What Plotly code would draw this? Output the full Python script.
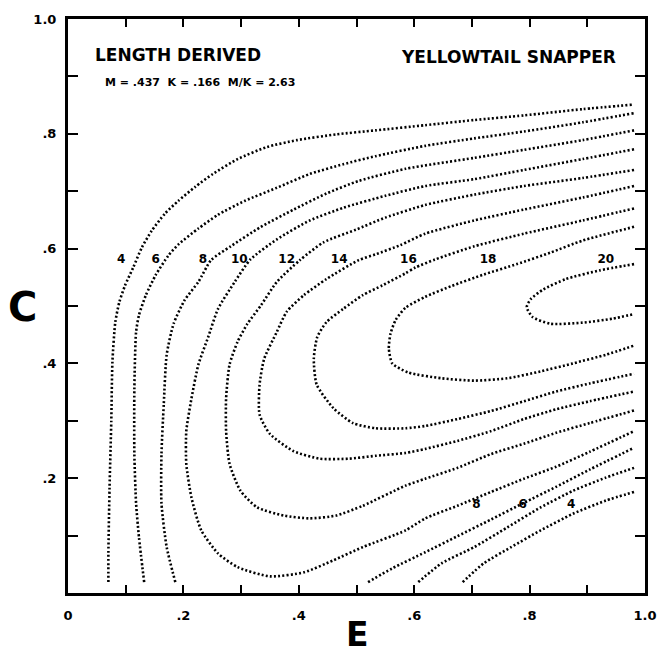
import plotly.graph_objects as go

# ---- contour isopleths (E = exploitation rate, C = size at entry) ----
E_4 = [0.070, 0.070, 0.072, 0.075, 0.077, 0.082, 0.089, 0.099, 0.113, 0.128, 0.145, 0.168, 0.191, 0.221, 0.251, 0.294, 0.345, 0.397, 0.465, 0.533, 0.619, 0.704, 0.790, 0.892, 0.981]
C_4 = [0.019, 0.069, 0.183, 0.299, 0.403, 0.472, 0.507, 0.536, 0.567, 0.602, 0.631, 0.661, 0.683, 0.708, 0.730, 0.756, 0.777, 0.789, 0.799, 0.806, 0.815, 0.824, 0.832, 0.843, 0.851]

E_6 = [0.132, 0.123, 0.118, 0.115, 0.115, 0.118, 0.123, 0.135, 0.152, 0.174, 0.191, 0.226, 0.260, 0.306, 0.362, 0.419, 0.477, 0.533, 0.619, 0.704, 0.790, 0.892, 0.981]
C_6 = [0.019, 0.097, 0.156, 0.242, 0.356, 0.455, 0.484, 0.519, 0.554, 0.588, 0.607, 0.635, 0.659, 0.683, 0.706, 0.730, 0.747, 0.761, 0.779, 0.792, 0.804, 0.820, 0.836]

E_8 = [0.186, 0.171, 0.162, 0.162, 0.166, 0.171, 0.183, 0.202, 0.226, 0.248, 0.282, 0.333, 0.391, 0.448, 0.504, 0.585, 0.704, 0.790, 0.892, 0.981]
C_8 = [0.019, 0.080, 0.156, 0.242, 0.329, 0.415, 0.469, 0.510, 0.542, 0.580, 0.604, 0.637, 0.668, 0.696, 0.718, 0.739, 0.758, 0.772, 0.789, 0.806]

E_10 = [0.981, 0.892, 0.790, 0.704, 0.619, 0.550, 0.477, 0.419, 0.362, 0.316, 0.289, 0.260, 0.243, 0.226, 0.214, 0.205, 0.205, 0.214, 0.231, 0.260, 0.294, 0.350, 0.409, 0.460, 0.511, 0.585, 0.619, 0.675, 0.733, 0.790, 0.846, 0.904, 0.981]
C_10 = [0.773, 0.756, 0.737, 0.721, 0.709, 0.692, 0.671, 0.649, 0.616, 0.581, 0.542, 0.495, 0.446, 0.398, 0.339, 0.282, 0.225, 0.166, 0.109, 0.069, 0.045, 0.029, 0.036, 0.057, 0.080, 0.109, 0.130, 0.152, 0.176, 0.199, 0.220, 0.246, 0.282]

E_12 = [0.981, 0.892, 0.790, 0.704, 0.619, 0.550, 0.499, 0.443, 0.402, 0.362, 0.335, 0.311, 0.294, 0.280, 0.274, 0.274, 0.280, 0.299, 0.328, 0.374, 0.419, 0.465, 0.511, 0.585, 0.619, 0.675, 0.733, 0.790, 0.846, 0.904, 0.981]
C_12 = [0.737, 0.723, 0.709, 0.694, 0.676, 0.654, 0.633, 0.611, 0.580, 0.542, 0.502, 0.469, 0.438, 0.398, 0.339, 0.282, 0.225, 0.178, 0.149, 0.135, 0.130, 0.135, 0.152, 0.187, 0.199, 0.218, 0.242, 0.260, 0.279, 0.296, 0.318]

E_14 = [0.981, 0.892, 0.790, 0.704, 0.619, 0.576, 0.533, 0.504, 0.448, 0.409, 0.379, 0.362, 0.340, 0.332, 0.332, 0.350, 0.391, 0.436, 0.487, 0.533, 0.585, 0.619, 0.675, 0.733, 0.790, 0.846, 0.904, 0.981]
C_14 = [0.709, 0.689, 0.668, 0.649, 0.626, 0.606, 0.590, 0.580, 0.547, 0.519, 0.490, 0.455, 0.408, 0.363, 0.311, 0.277, 0.247, 0.234, 0.234, 0.239, 0.244, 0.251, 0.265, 0.282, 0.303, 0.320, 0.334, 0.351]

E_16 = [0.981, 0.892, 0.790, 0.704, 0.636, 0.602, 0.585, 0.545, 0.511, 0.477, 0.448, 0.432, 0.426, 0.431, 0.460, 0.494, 0.533, 0.585, 0.619, 0.675, 0.733, 0.790, 0.846, 0.904, 0.981]
C_16 = [0.670, 0.649, 0.626, 0.604, 0.581, 0.567, 0.557, 0.536, 0.519, 0.495, 0.472, 0.446, 0.408, 0.363, 0.322, 0.296, 0.287, 0.287, 0.291, 0.303, 0.317, 0.334, 0.351, 0.365, 0.382]

E_18 = [0.981, 0.892, 0.836, 0.778, 0.721, 0.665, 0.619, 0.585, 0.568, 0.559, 0.556, 0.562, 0.590, 0.648, 0.704, 0.761, 0.819, 0.875, 0.932, 0.981]
C_18 = [0.638, 0.614, 0.593, 0.573, 0.555, 0.535, 0.516, 0.497, 0.476, 0.452, 0.426, 0.400, 0.384, 0.374, 0.370, 0.374, 0.386, 0.400, 0.415, 0.431]

E_20 = [0.981, 0.921, 0.863, 0.824, 0.802, 0.795, 0.805, 0.836, 0.892, 0.944, 0.981]
C_20 = [0.573, 0.562, 0.547, 0.529, 0.512, 0.498, 0.481, 0.469, 0.471, 0.478, 0.486]

E_8_low = [0.520, 0.562, 0.619, 0.675, 0.733, 0.790, 0.846, 0.904, 0.981]
C_8_low = [0.019, 0.043, 0.071, 0.099, 0.128, 0.157, 0.185, 0.215, 0.253]

E_6_low = [0.607, 0.648, 0.704, 0.761, 0.819, 0.875, 0.932, 0.981]
C_6_low = [0.019, 0.052, 0.080, 0.114, 0.149, 0.178, 0.201, 0.218]

E_4_low = [0.684, 0.721, 0.768, 0.819, 0.875, 0.932, 0.981]
C_4_low = [0.019, 0.052, 0.080, 0.109, 0.138, 0.161, 0.176]

# ---- contour labels ----
label_text = ["4", "6", "8", "10", "12", "14", "16", "18", "20", "8", "6", "4"]
label_e = [0.092, 0.152, 0.234, 0.297, 0.379, 0.470, 0.590, 0.728, 0.932, 0.708, 0.788, 0.872]
label_c = [0.580, 0.580, 0.580, 0.580, 0.580, 0.580, 0.580, 0.580, 0.580, 0.154, 0.154, 0.154]

# ---- axis ticks ----
tick_vals = [0.0, 0.1, 0.2, 0.3, 0.4, 0.5, 0.6, 0.7, 0.8, 0.9, 1.0]
x_tick_text = ["0", "", ".2", "", ".4", "", ".6", "", ".8", "", "1.0"]
y_tick_text = ["", "", ".2", "", ".4", "", ".6", "", ".8", "", "1.0"]

FONT = "DejaVu Sans"

curves = [(E_4, C_4), (E_6, C_6), (E_8, C_8), (E_10, C_10), (E_12, C_12),
          (E_14, C_14), (E_16, C_16), (E_18, C_18), (E_20, C_20),
          (E_8_low, C_8_low), (E_6_low, C_6_low), (E_4_low, C_4_low)]

fig = go.Figure()
for e, c in curves:
    fig.add_trace(go.Scatter(
        x=e, y=c, mode="lines",
        line=dict(color="black", width=2.6, dash="2px,2.2px", shape="spline", smoothing=0.6),
        hoverinfo="skip", showlegend=False))

fig.add_trace(go.Scatter(
    x=label_e, y=label_c, mode="text", text=label_text,
    textfont=dict(family=FONT, size=12, color="black", weight="bold"),
    textposition="middle center", hoverinfo="skip", showlegend=False))

axis_common = dict(
    range=[0, 1], tickvals=tick_vals, showline=True, linecolor="black", linewidth=3,
    mirror="ticks", ticks="inside", tickwidth=2, tickcolor="black",
    showgrid=False, zeroline=False, fixedrange=True,
    tickfont=dict(family=FONT, size=13, color="black", weight="bold"),
)

fig.update_xaxes(**axis_common, ticktext=x_tick_text, ticklen=8, ticklabelstandoff=8)
fig.update_yaxes(**axis_common, ticktext=y_tick_text, ticklen=10, ticklabelstandoff=6)

ann_font = dict(family=FONT, color="black", weight="bold")
fig.add_annotation(x=0.043, y=0.938, xref="x", yref="y", text="LENGTH DERIVED",
                   showarrow=False, xanchor="left", yanchor="middle", font=dict(size=17, **ann_font))
fig.add_annotation(x=0.060, y=0.889, xref="x", yref="y", text="M = .437  K = .166  M/K = 2.63",
                   showarrow=False, xanchor="left", yanchor="middle", font=dict(size=11, **ann_font))
fig.add_annotation(x=0.573, y=0.934, xref="x", yref="y", text="YELLOWTAIL SNAPPER",
                   showarrow=False, xanchor="left", yanchor="middle", font=dict(size=17, **ann_font))
fig.add_annotation(x=-0.079, y=0.498, xref="paper", yref="paper", text="C",
                   showarrow=False, xanchor="center", yanchor="middle", font=dict(size=40, **ann_font))
fig.add_annotation(x=0.501, y=-0.072, xref="paper", yref="paper", text="E",
                   showarrow=False, xanchor="center", yanchor="middle", font=dict(size=33, **ann_font))

fig.update_layout(
    width=669, height=654,
    margin=dict(l=68, r=16, t=15, b=61),
    paper_bgcolor="white", plot_bgcolor="white",
    showlegend=False,
)

fig.write_html("out.html")
